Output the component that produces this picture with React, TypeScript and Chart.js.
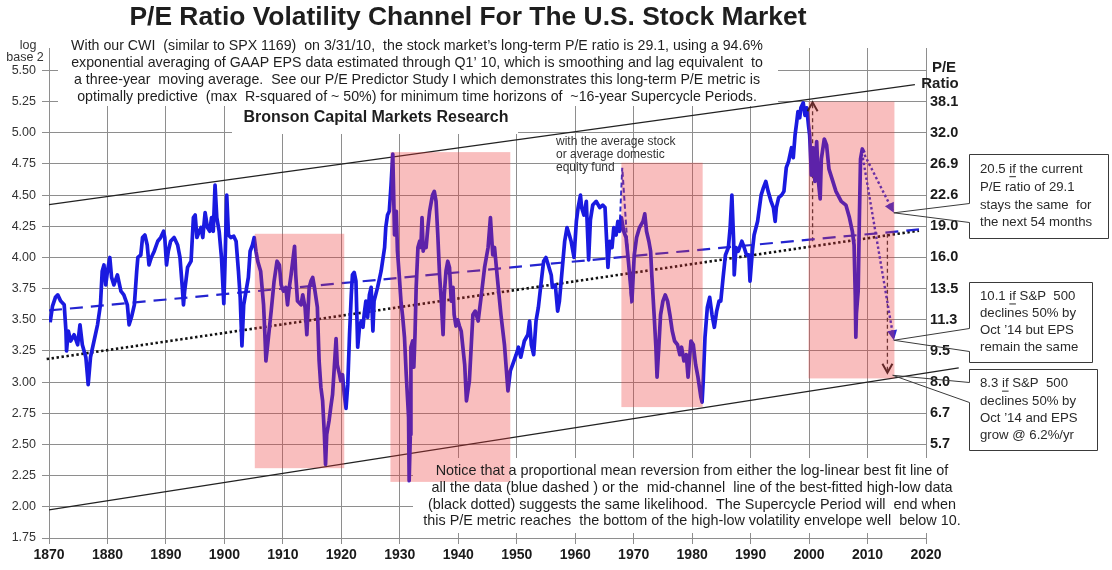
import React, { useEffect, useRef } from "react";
import { Chart, registerables } from "chart.js";

Chart.register(...registerables);

const SANS = "'Liberation Sans', Arial, Helvetica, sans-serif";

// ---------------- text ----------------
const TITLE = "P/E Ratio Volatility Channel For The U.S. Stock Market";
const INTRO_LINES = [
  "With our CWI  (similar to SPX 1169)  on 3/31/10,  the stock market\u2019s long-term P/E ratio is 29.1, using a 94.6%",
  "exponential averaging of GAAP EPS data estimated through Q1\u2019 10, which is smoothing and lag equivalent  to",
  "a three-year  moving average.  See our P/E Predictor Study I which demonstrates this long-term P/E metric is",
  "optimally predictive  (max  R-squared of ~ 50%) for minimum time horizons of  ~16-year Supercycle Periods.",
];
const SOURCE = "Bronson Capital Markets Research";
const NOTE_LINES = [
  "Notice that a proportional mean reversion from either the log-linear best fit line of",
  "all the data (blue dashed ) or the  mid-channel  line of the best-fitted high-low data",
  "(black dotted) suggests the same likelihood.  The Supercycle Period will  end when",
  "this P/E metric reaches  the bottom of the high-low volatility envelope well  below 10.",
];
const FUND_NOTE = ["with the average stock", "or average domestic", "equity fund"];
const CALLOUT_TEXT = [
  ["20.5 if the current", "P/E ratio of 29.1", "stays the same  for", "the next 54 months"],
  ["10.1 if S&P  500", "declines 50% by", "Oct \u201914 but EPS", "remain the same"],
  ["8.3 if S&P  500", "declines 50% by", "Oct \u201914 and EPS", "grow @ 6.2%/yr"],
];

// ---------------- ticks ----------------
const LEFT_TICKS = [1.75, 2.0, 2.25, 2.5, 2.75, 3.0, 3.25, 3.5, 3.75, 4.0, 4.25, 4.5, 4.75, 5.0, 5.25, 5.5];
const RIGHT_TICKS = [2.5, 2.75, 3.0, 3.25, 3.5, 3.75, 4.0, 4.25, 4.5, 4.75, 5.0, 5.25];
const YEAR_TICKS = [1870, 1880, 1890, 1900, 1910, 1920, 1930, 1940, 1950, 1960, 1970, 1980, 1990, 2000, 2010, 2020];

// ---------------- data: log2 of long-term P/E ----------------
const peYears = [
  1870.2, 1870.6, 1871.1, 1871.5, 1872.0, 1872.6, 1872.9, 1873.0, 1873.3, 1873.7, 1874.3, 1874.9, 1875.3, 1875.7, 1876.3, 1876.6, 1876.7,
  1877.1, 1877.7, 1878.3, 1878.8, 1879.1, 1879.4, 1879.7, 1880.0, 1880.4, 1880.7, 1881.1, 1881.7, 1882.3, 1882.8, 1883.4, 1883.7, 1884.1,
  1884.6, 1885.0, 1885.2, 1885.7, 1886.0, 1886.4, 1886.8, 1887.1, 1887.5, 1888.0, 1888.6, 1889.1, 1889.6, 1889.8, 1890.1, 1890.4, 1890.8,
  1891.4, 1892.0, 1892.4, 1892.8, 1893.0, 1893.2, 1893.7, 1894.3, 1894.7, 1895.0, 1895.3, 1895.7, 1896.0, 1896.3, 1896.7, 1897.1, 1897.5,
  1897.8, 1898.1, 1898.4, 1898.7, 1899.1, 1899.5, 1899.9, 1900.1, 1900.4, 1900.7, 1901.1, 1901.6, 1902.0, 1902.4, 1902.7, 1903.0, 1903.3,
  1903.7, 1904.1, 1904.4, 1904.8, 1905.1, 1905.4, 1905.7, 1906.2, 1906.7, 1906.9, 1907.1, 1907.4, 1908.0, 1908.5, 1909.0, 1909.4, 1909.7,
  1910.1, 1910.5, 1910.8, 1911.1, 1911.4, 1912.0, 1912.2, 1912.5, 1913.1, 1913.4, 1913.8, 1914.1, 1914.5, 1914.8, 1915.1, 1915.4, 1915.9,
  1916.2, 1916.5, 1916.8, 1917.1, 1917.3, 1917.5, 1917.9, 1918.2, 1918.5, 1918.8, 1919.1, 1919.3, 1919.7, 1919.9, 1920.2, 1920.5, 1920.8,
  1921.1, 1921.4, 1921.7, 1921.9, 1922.2, 1922.5, 1922.8, 1923.1, 1923.4, 1923.7, 1923.9, 1924.2, 1924.5, 1924.8, 1925.1, 1925.4, 1925.6,
  1926.2, 1926.8, 1927.4, 1927.6, 1927.9, 1928.2, 1928.5, 1928.8, 1929.1, 1929.4, 1929.6, 1929.9, 1930.2, 1930.5, 1930.8, 1931.1, 1931.5,
  1931.6, 1931.8, 1931.9, 1932.2, 1932.4, 1932.6, 1932.8, 1933.1, 1933.4, 1933.6, 1933.8, 1934.0, 1934.2, 1934.5, 1934.8, 1935.1, 1935.4,
  1935.6, 1935.9, 1936.2, 1936.5, 1936.8, 1937.1, 1937.4, 1937.6, 1937.9, 1938.2, 1938.5, 1938.8, 1939.1, 1939.3, 1939.6, 1939.9, 1940.2,
  1940.5, 1941.1, 1941.4, 1941.9, 1942.5, 1942.9, 1943.4, 1943.9, 1944.5, 1945.1, 1945.5, 1945.9, 1946.2, 1946.8, 1947.3, 1947.9, 1948.5,
  1948.9, 1949.3, 1949.9, 1950.3, 1950.7, 1951.3, 1951.9, 1952.2, 1952.5, 1952.9, 1953.3, 1953.7, 1954.2, 1954.6, 1955.0, 1955.4, 1955.9,
  1956.1, 1956.6, 1957.0, 1957.3, 1957.6, 1958.2, 1958.6, 1959.0, 1959.3, 1959.8, 1960.2, 1960.5, 1960.9, 1961.1, 1961.5, 1961.9, 1962.3,
  1962.6, 1963.0, 1963.6, 1964.2, 1964.7, 1965.1, 1965.6, 1965.9, 1966.3, 1966.6, 1967.0, 1967.3, 1967.6, 1967.9, 1968.3, 1968.7, 1969.1,
  1969.5, 1969.7, 1970.1, 1970.5, 1971.0, 1971.6, 1971.9, 1972.2, 1972.6, 1972.9, 1973.1, 1973.5, 1973.8, 1974.0, 1974.3, 1974.6, 1975.0,
  1975.4, 1975.8, 1976.2, 1976.6, 1977.0, 1977.5, 1977.9, 1978.2, 1978.6, 1979.0, 1979.3, 1979.8, 1980.2, 1980.6, 1981.0, 1981.5, 1981.7,
  1981.9, 1982.2, 1982.6, 1983.0, 1983.4, 1983.8, 1984.2, 1984.6, 1984.9, 1985.3, 1985.7, 1986.2, 1986.5, 1986.8, 1987.1, 1987.2, 1987.5,
  1987.9, 1988.5, 1988.9, 1989.3, 1989.7, 1989.9, 1990.3, 1990.6, 1991.2, 1991.8, 1992.2, 1992.6, 1993.0, 1993.5, 1993.9, 1994.2, 1994.4,
  1994.8, 1995.3, 1995.7, 1996.1, 1996.5, 1997.0, 1997.3, 1997.6, 1997.9, 1998.1, 1998.4, 1998.6, 1999.0, 1999.3, 1999.6, 1999.9, 2000.1,
  2000.4, 2000.7, 2001.0, 2001.3, 2001.6, 2001.9, 2002.1, 2002.6, 2003.0, 2003.4, 2004.0, 2004.6, 2005.5, 2006.3, 2006.9, 2007.4, 2007.7,
  2007.9, 2008.0, 2008.1, 2008.4, 2008.6, 2008.8, 2009.1, 2009.4,
];
const peLog2 = [
  3.48, 3.61, 3.68, 3.70, 3.65, 3.62, 3.41, 3.25, 3.41, 3.33, 3.38, 3.30, 3.46, 3.30, 3.20, 3.04, 2.98,
  3.20, 3.33, 3.46, 3.62, 3.89, 3.94, 3.78, 3.89, 4.00, 3.84, 3.78, 3.86, 3.73, 3.70, 3.62, 3.46, 3.52,
  3.62, 3.89, 4.00, 4.02, 4.16, 4.18, 4.10, 3.94, 4.00, 4.05, 4.13, 4.16, 4.21, 4.16, 3.94, 4.05, 4.13,
  4.16, 4.10, 4.00, 3.76, 3.62, 3.73, 3.92, 3.97, 4.32, 4.34, 4.16, 4.21, 4.24, 4.16, 4.36, 4.24, 4.21,
  4.32, 4.21, 4.58, 4.32, 4.21, 4.00, 3.63, 3.94, 4.50, 4.18, 4.16, 4.17, 4.13, 3.89, 3.68, 3.29, 3.62,
  3.73, 3.84, 4.05, 4.10, 4.16, 4.05, 3.97, 3.89, 3.62, 3.41, 3.17, 3.30, 3.57, 3.81, 3.97, 3.94, 3.78,
  3.73, 3.76, 3.62, 3.76, 3.86, 4.09, 3.86, 3.65, 3.62, 3.70, 3.60, 3.38, 3.76, 3.81, 3.84, 3.76, 3.60,
  3.17, 2.96, 2.85, 2.58, 2.34, 2.58, 2.69, 2.80, 2.90, 3.12, 3.35, 3.14, 3.06, 3.01, 3.06, 2.90, 2.79,
  2.98, 3.38, 3.70, 3.86, 3.88, 3.81, 3.28, 3.44, 3.49, 3.44, 3.54, 3.65, 3.52, 3.70, 3.76, 3.41, 3.65,
  3.76, 3.89, 4.08, 4.24, 4.34, 4.37, 4.58, 4.83, 4.18, 4.37, 4.05, 3.86, 3.65, 3.52, 3.36, 3.06, 2.72,
  2.21, 2.58, 3.28, 3.33, 3.12, 3.38, 3.76, 4.08, 4.13, 4.08, 4.32, 4.05, 4.10, 4.08, 4.24, 4.37, 4.45,
  4.50, 4.53, 4.45, 4.18, 3.86, 3.65, 3.38, 3.70, 3.89, 3.97, 3.92, 3.65, 3.76, 3.54, 3.45, 3.50, 3.45,
  3.41, 3.14, 2.85, 3.01, 3.54, 3.57, 3.49, 3.68, 3.92, 4.08, 4.32, 4.02, 4.08, 3.78, 3.54, 3.30, 2.93,
  3.09, 3.14, 3.22, 3.28, 3.20, 3.33, 3.38, 3.49, 3.30, 3.22, 3.49, 3.60, 3.81, 3.97, 4.00, 3.94, 3.86,
  3.76, 3.78, 3.57, 3.65, 3.81, 4.13, 4.24, 4.18, 4.13, 4.00, 4.29, 4.40, 4.50, 4.40, 4.34, 4.45, 3.98,
  4.30, 4.42, 4.45, 4.40, 4.42, 4.40, 3.92, 4.13, 4.08, 4.24, 4.18, 4.29, 4.21, 4.32, 4.21, 4.16, 3.97,
  3.76, 3.65, 4.02, 4.16, 4.24, 4.29, 4.35, 4.21, 4.13, 4.05, 3.86, 3.54, 3.28, 3.04, 3.28, 3.54, 3.65,
  3.70, 3.65, 3.54, 3.41, 3.33, 3.30, 3.22, 3.28, 3.17, 3.22, 3.04, 3.33, 3.30, 3.14, 3.04, 2.88, 2.84,
  3.01, 3.36, 3.60, 3.68, 3.54, 3.44, 3.57, 3.65, 3.65, 3.84, 4.02, 4.08, 4.24, 4.50, 4.13, 3.86, 4.08,
  4.05, 4.13, 4.08, 4.02, 4.02, 3.81, 4.05, 4.18, 4.29, 4.50, 4.56, 4.61, 4.53, 4.45, 4.40, 4.29, 4.40,
  4.48, 4.50, 4.53, 4.72, 4.77, 4.88, 4.80, 4.98, 5.09, 5.17, 5.12, 5.20, 5.24, 5.14, 5.20, 5.06, 4.98,
  4.66, 4.88, 4.61, 4.93, 4.61, 4.47, 4.79, 4.95, 4.90, 4.71, 4.62, 4.53, 4.45, 4.42, 4.32, 4.21, 4.10,
  3.70, 3.36, 3.55, 3.73, 4.30, 4.79, 4.87, 4.84,
];

// channel & fitted lines (log2 values)
const channelTopYears = [1870, 2018.1];
const channelTopVals = [4.424, 5.386];
const channelBottomYears = [1870, 2025.6];
const channelBottomVals = [1.976, 3.114];
const trendYears = [1870, 2018.8];
const trendVals = [3.575, 4.225];
const midYears = [1869.6, 2018.8];
const midVals = [3.185, 4.215];
const fundYears = [1967.6, 1968.05, 1969.6];
const fundVals = [4.24, 4.72, 3.63];

// supercycle bear periods
const cycleStart = [1905.2, 1928.4, 1967.9, 1999.9];
const cycleEnd = [1920.5, 1948.9, 1981.8, 2014.6];
const cycleLow = [2.31, 2.2, 2.8, 3.03];
const cycleHigh = [4.19, 4.845, 4.76, 5.25];

// scenario arrows
const upArrowYears = [2000.6, 2000.6];
const upArrowVals = [4.13, 5.245];
const downArrowYears = [2013.4, 2013.4];
const downArrowVals = [4.19, 3.075];
const scenAYears = [2009.1, 2014.5];
const scenAVals = [4.86, 4.358];
const scenBYears = [2009.2, 2014.5];
const scenBVals = [4.8, 3.336];
const calloutTipYears = [2014.5, 2014.5, 2014.3];
const calloutTipVals = [4.358, 3.336, 3.055];

// ---------------- layout (pixels) ----------------
const WHITE_BOXES = [
  [58, 34, 720, 72],
  [232, 104, 286, 30],
  [413, 458, 553, 75],
];
const CALLOUT_BOXES = [
  { l: 969, t: 154, r: 1108, b: 238, a1: 203, a2: 222 },
  { l: 969, t: 282, r: 1092, b: 362, a1: 328, a2: 351 },
  { l: 969, t: 369, r: 1097, b: 450, a1: 382, a2: 402 },
];

const pts = (xs: number[], ys: number[]) => xs.map((x, i) => ({ x, y: ys[i] }));

function head(ctx: CanvasRenderingContext2D, fx: number, fy: number, tx: number, ty: number, len: number, half: number, filled: boolean, color: string) {
  const a = Math.atan2(ty - fy, tx - fx);
  const bx = tx - len * Math.cos(a);
  const by = ty - len * Math.sin(a);
  const px = -Math.sin(a) * half;
  const py = Math.cos(a) * half;
  ctx.save();
  ctx.setLineDash([]);
  ctx.beginPath();
  if (filled) {
    ctx.moveTo(tx, ty);
    ctx.lineTo(bx + px, by + py);
    ctx.lineTo(bx - px, by - py);
    ctx.closePath();
    ctx.fillStyle = color;
    ctx.fill();
  } else {
    ctx.moveTo(bx + px, by + py);
    ctx.lineTo(tx, ty);
    ctx.lineTo(bx - px, by - py);
    ctx.strokeStyle = color;
    ctx.lineWidth = 2;
    ctx.stroke();
  }
  ctx.restore();
}

const overlayPlugin = {
  id: "overlay",
  beforeDatasetsDraw(chart: any) {
    const ctx: CanvasRenderingContext2D = chart.ctx;
    ctx.save();
    ctx.fillStyle = "#ffffff";
    for (const [x, y, w, h] of WHITE_BOXES) ctx.fillRect(x, y, w, h);
    ctx.restore();
  },
  afterDatasetsDraw(chart: any) {
    const ctx: CanvasRenderingContext2D = chart.ctx;
    const xs = chart.scales.x;
    const ys = chart.scales.y;
    const X = (v: number) => xs.getPixelForValue(v);
    const Y = (v: number) => ys.getPixelForValue(v);

    head(ctx, X(scenAYears[0]), Y(scenAVals[0]), X(scenAYears[1]), Y(scenAVals[1]), 10, 5, true, "#2b2bd8");
    head(ctx, X(scenBYears[0]), Y(scenBVals[0]), X(scenBYears[1]), Y(scenBVals[1]), 10, 5, true, "#2b2bd8");
    head(ctx, X(upArrowYears[0]), Y(upArrowVals[0]), X(upArrowYears[1]), Y(upArrowVals[1]), 9, 5, false, "#222");
    head(ctx, X(downArrowYears[0]), Y(downArrowVals[0]), X(downArrowYears[1]), Y(downArrowVals[1]), 9, 5, false, "#222");

    ctx.save();
    ctx.fillStyle = "rgba(236, 52, 52, 0.32)";
    for (let i = 0; i < cycleStart.length; i++) {
      const x0 = X(cycleStart[i]);
      const x1 = X(cycleEnd[i]);
      const y0 = Y(cycleHigh[i]);
      const y1 = Y(cycleLow[i]);
      ctx.fillRect(x0, y0, x1 - x0, y1 - y0);
    }
    ctx.restore();
  },
  afterDraw(chart: any) {
    const ctx: CanvasRenderingContext2D = chart.ctx;
    const xs = chart.scales.x;
    const ys = chart.scales.y;
    const X = (v: number) => xs.getPixelForValue(v);
    const Y = (v: number) => ys.getPixelForValue(v);
    ctx.save();
    ctx.fillStyle = "#1e1e1e";

    ctx.font = `bold 26.4px ${SANS}`;
    ctx.textAlign = "center";
    ctx.textBaseline = "alphabetic";
    ctx.fillText(TITLE, 468, 25);

    ctx.font = `14.2px ${SANS}`;
    ctx.textBaseline = "middle";
    INTRO_LINES.forEach((l, i) => ctx.fillText(l, 417, 46 + i * 17));

    ctx.font = `bold 16px ${SANS}`;
    ctx.fillText(SOURCE, 376, 118);

    ctx.font = `14.4px ${SANS}`;
    NOTE_LINES.forEach((l, i) => ctx.fillText(l, 692, 471 + i * 16.8));

    ctx.font = `12.5px ${SANS}`;
    ctx.fillStyle = "#333";
    ctx.fillText("log", 28, 46);
    ctx.fillText("base 2", 25, 58);
    ctx.fillStyle = "#1e1e1e";
    ctx.font = `bold 15px ${SANS}`;
    ctx.fillText("P/E", 944, 68);
    ctx.fillText("Ratio", 940, 84);

    ctx.font = `12px ${SANS}`;
    ctx.fillStyle = "#333";
    ctx.textAlign = "left";
    FUND_NOTE.forEach((l, i) => ctx.fillText(l, 556, 142 + i * 13));

    ctx.font = `13.2px ${SANS}`;
    ctx.fillStyle = "#2a2a2a";
    CALLOUT_BOXES.forEach((b, i) => {
      const tx = X(calloutTipYears[i]);
      const ty = Y(calloutTipVals[i]);
      ctx.save();
      ctx.fillStyle = "#fff";
      ctx.fillRect(b.l, b.t, b.r - b.l, b.b - b.t);
      ctx.strokeStyle = "#3a3a3a";
      ctx.lineWidth = 1;
      ctx.beginPath();
      ctx.moveTo(tx, ty);
      ctx.lineTo(b.l + 0.5, b.a1 + 0.5);
      ctx.lineTo(b.l + 0.5, b.t + 0.5);
      ctx.lineTo(b.r + 0.5, b.t + 0.5);
      ctx.lineTo(b.r + 0.5, b.b + 0.5);
      ctx.lineTo(b.l + 0.5, b.b + 0.5);
      ctx.lineTo(b.l + 0.5, b.a2 + 0.5);
      ctx.closePath();
      ctx.stroke();
      ctx.restore();
      const lines = CALLOUT_TEXT[i];
      const step = (b.b - b.t) / 4.7;
      lines.forEach((l, j) => {
        const ly = b.t + step * (0.85 + j);
        ctx.fillText(l, b.l + 11, ly);
        if (j === 0) {
          const m = l.match(/^(\S+ )if /);
          if (m) {
            const x0 = b.l + 11 + ctx.measureText(m[1]).width;
            const w = ctx.measureText("if").width;
            ctx.save();
            ctx.strokeStyle = "#2a2a2a";
            ctx.lineWidth = 1;
            ctx.beginPath();
            ctx.moveTo(x0, ly + 7.5);
            ctx.lineTo(x0 + w, ly + 7.5);
            ctx.stroke();
            ctx.restore();
          }
        }
      });
    });
    ctx.restore();
  },
};

export default function App() {
  const ref = useRef<HTMLCanvasElement>(null);
  useEffect(() => {
    const GRID = "#8e8e8e";
    const chart = new Chart(ref.current as HTMLCanvasElement, {
      type: "line",
      data: {
        datasets: [
          { data: pts(peYears, peLog2), borderColor: "#1a1ae0", borderWidth: 3.7, pointRadius: 0, tension: 0, borderJoinStyle: "round" },
          { data: pts(fundYears, fundVals), borderColor: "#2a2ad6", borderWidth: 2, borderDash: [5, 3], pointRadius: 0 },
          { data: pts(trendYears, trendVals), borderColor: "#2424d0", borderWidth: 2.2, borderDash: [13, 8], pointRadius: 0 },
          { data: pts(midYears, midVals), borderColor: "#111", borderWidth: 2.6, borderDash: [2.4, 2.6], pointRadius: 0, clip: false },
          { data: pts(channelTopYears, channelTopVals), borderColor: "#222", borderWidth: 1.2, pointRadius: 0, clip: false },
          { data: pts(channelBottomYears, channelBottomVals), borderColor: "#222", borderWidth: 1.2, pointRadius: 0, clip: false },
          { data: pts(scenAYears, scenAVals), borderColor: "#2b2bd8", borderWidth: 2.4, borderDash: [2.5, 2.5], pointRadius: 0 },
          { data: pts(scenBYears, scenBVals), borderColor: "#2b2bd8", borderWidth: 2.4, borderDash: [2.5, 2.5], pointRadius: 0 },
          { data: pts(upArrowYears, upArrowVals), borderColor: "#333", borderWidth: 1.3, borderDash: [4, 3], pointRadius: 0 },
          { data: pts(downArrowYears, downArrowVals), borderColor: "#333", borderWidth: 1.3, borderDash: [4, 3], pointRadius: 0 },
        ] as any,
      },
      options: {
        animation: false,
        responsive: false,
        devicePixelRatio: 1,
        layout: { padding: { top: 48, left: 0, right: 0, bottom: 0 } },
        plugins: { legend: { display: false }, tooltip: { enabled: false } },
        scales: {
          x: {
            type: "linear",
            min: 1870,
            max: 2020,
            afterBuildTicks: (s: any) => {
              s.ticks = YEAR_TICKS.map((v) => ({ value: v }));
            },
            afterFit: (s: any) => {
              s.height = 32;
            },
            ticks: {
              autoSkip: false,
              maxRotation: 0,
              padding: 3,
              color: "#1a1a1a",
              font: { family: SANS, size: 14, weight: "bold" },
              callback: (v: any) => String(v),
            },
            grid: { color: GRID, lineWidth: 1, tickLength: 6 },
            border: { display: true, color: GRID },
          },
          y: {
            position: "left",
            min: 1.75,
            max: 5.68,
            afterBuildTicks: (s: any) => {
              s.ticks = LEFT_TICKS.map((v) => ({ value: v }));
            },
            afterFit: (s: any) => {
              s.width = 49;
            },
            ticks: {
              autoSkip: false,
              padding: 6,
              color: "#333",
              font: { family: SANS, size: 12.5 },
              callback: (v: any) => Number(v).toFixed(2),
            },
            grid: { color: GRID, lineWidth: 1, tickLength: 7 },
            border: { display: true, color: GRID },
          },
          y2: {
            position: "right",
            min: 1.75,
            max: 5.68,
            afterBuildTicks: (s: any) => {
              s.ticks = RIGHT_TICKS.map((v) => ({ value: v }));
            },
            afterFit: (s: any) => {
              s.width = 186;
            },
            ticks: {
              autoSkip: false,
              padding: 4,
              color: "#1a1a1a",
              font: { family: SANS, size: 14.5, weight: "bold" },
              callback: (v: any) => Math.pow(2, Number(v)).toFixed(1),
            },
            grid: { drawOnChartArea: false, drawTicks: false },
            border: { display: true, color: GRID },
          },
        },
      } as any,
      plugins: [overlayPlugin],
    });
    return () => chart.destroy();
  }, []);
  return (
    <div style={{ position: "absolute", left: 0, top: 0, width: 1112, height: 570, background: "#fff" }}>
      <canvas ref={ref} width={1112} height={570} style={{ display: "block", width: 1112, height: 570 }} />
    </div>
  );
}
